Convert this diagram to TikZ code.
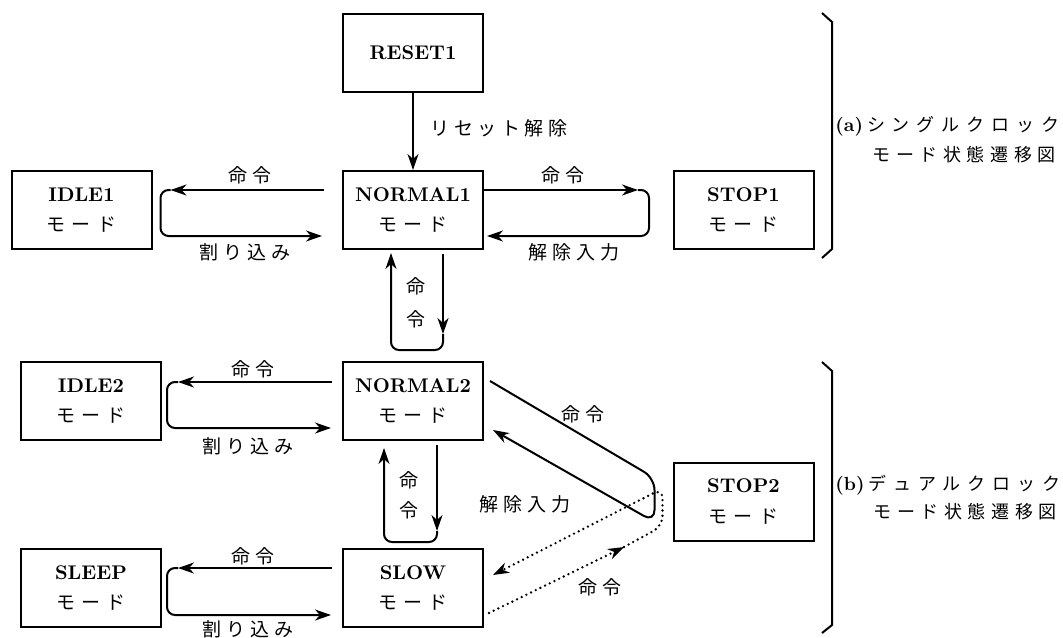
\documentclass[tikz,border=0pt]{standalone}
\usepackage{fontspec}
\newfontfamily\jp{Noto Sans CJK JP}
\usetikzlibrary{arrows.meta,calc}
\makeatletter
\def\spgap{0pt}
\newcommand\spaced[2]{\def\spgap{#1}\sp@loop#2\relax}
\def\sp@loop#1{\ifx#1\relax\else#1\expandafter\sp@next\fi}
\def\sp@next#1{\ifx#1\relax\else\kern\spgap\relax#1\expandafter\sp@next\fi}
\makeatother
\newcommand\modetxt{{\jp\fontsize{9.5}{15.2}\selectfont\spaced{3.2pt}{モード}}}
\begin{document}
\begin{tikzpicture}[x=0.5pt,y=-0.5pt,
  box/.style={draw,line width=1pt,minimum width=70pt,minimum height=39pt,inner sep=0pt,align=center,font=\fontsize{9.9}{15.2}\selectfont},
  ln/.style={line width=1pt,rounded corners=4pt},
  arr/.style={-{Stealth[length=8pt,width=5.5pt,inset=2.5pt]}},
  dot/.style={line width=1.3pt,line cap=round,dash pattern=on 0pt off 2.6pt,rounded corners=4pt},
  lab/.style={inner sep=0pt,font=\jp\fontsize{9.5}{16}\selectfont},
  vlab/.style={inner sep=0pt,align=center},
  side/.style={anchor=west,inner sep=0pt},
]
\useasboundingbox (0,0) rectangle (1063,637);

% boxes
\node[box] (R1) at (413,52.5) {\textbf{RESET1}};
\node[box] (N1) at (413,210) {\textbf{NORMAL1}\\\modetxt};
\node[box] (I1) at (81.5,210) {\textbf{IDLE1}\\\modetxt};
\node[box] (S1) at (743.5,210) {\textbf{STOP1}\\\modetxt};
\node[box] (N2) at (413,401) {\textbf{NORMAL2}\\\modetxt};
\node[box] (I2) at (91,401) {\textbf{IDLE2}\\\modetxt};
\node[box] (SP) at (91,588) {\textbf{SLEEP}\\\modetxt};
\node[box] (SW) at (413,588) {\textbf{SLOW}\\\modetxt};
\node[box] (S2) at (743.5,501.5) {\textbf{STOP2}\\\modetxt};

% RESET1 -> NORMAL1
\draw[ln,arr] (R1.south) -- (N1.north);
\node[lab] (lr) at (499,128) {\spaced{2.3pt}{リセット解除}};

% NORMAL1 <-> IDLE1
\draw[ln,arr] ($(N1.west)+(-18,-20)$) -- ($(I1.east)+(18,-20)$) coordinate (a2);
\draw[ln,arr] (a2) -- ($(I1.east)+(8,-20)$) -- ($(I1.east)+(8,26)$) -- ($(N1.west)+(-20,26)$);
\node[lab] (la1) at (250,175) {\spaced{2.5pt}{命令}};
\node[lab] (la2) at (245,252) {\spaced{2.5pt}{割り込み}};

% NORMAL1 <-> STOP1
\draw[ln,arr] ($(N1.east)+(0,-20)$) -- ($(N1.east)+(154,-20)$) coordinate (b2);
\draw[ln,arr] (b2) -- ($(N1.east)+(165,-20)$) -- ($(N1.east)+(165,26)$) -- ($(N1.east)+(3,26)$);
\node[lab] (lb1) at (563,175) {\spaced{2.5pt}{命令}};
\node[lab] (lb2) at (574,252) {\spaced{2.5pt}{解除入力}};

% NORMAL1 loop
\draw[ln,arr] ($(N1.south)+(30,4)$) -- ($(N1.south)+(30,84)$) coordinate (c2);
\draw[ln,arr] (c2) -- ($(N1.south)+(30,100)$) -- ($(N1.south)+(-22,100)$) -- ($(N1.south)+(-22,3)$);
\node[lab,vlab,font=\jp\fontsize{9.5}{16.5}\selectfont] (lc) at (416,303) {命\\令};

% NORMAL2 <-> IDLE2
\draw[ln,arr] ($(N2.west)+(-10,-19)$) -- ($(I2.east)+(16,-19)$) coordinate (e2);
\draw[ln,arr] (e2) -- ($(I2.east)+(5,-19)$) -- ($(I2.east)+(5,27)$) -- ($(N2.west)+(-11,27)$);
\node[lab] (le1) at (253,369) {\spaced{2.5pt}{命令}};
\node[lab] (le2) at (248,446) {\spaced{2.5pt}{割り込み}};

% SLOW <-> SLEEP
\draw[ln,arr] ($(SW.west)+(-10,-20)$) -- ($(SP.east)+(16,-20)$) coordinate (f2);
\draw[ln,arr] (f2) -- ($(SP.east)+(5,-20)$) -- ($(SP.east)+(5,27)$) -- ($(SW.west)+(-11,27)$);
\node[lab] (lf1) at (253,556) {\spaced{2.5pt}{命令}};
\node[lab] (lf2) at (248,629) {\spaced{2.5pt}{割り込み}};

% NORMAL2 <-> SLOW
\draw[ln,arr] ($(N2.south)+(24,4)$) -- ($(N2.south)+(24,90)$) coordinate (g2);
\draw[ln,arr] (g2) -- ($(N2.south)+(24,101)$) -- ($(N2.south)+(-29,101)$) -- ($(N2.south)+(-29,7)$);
\node[lab,vlab,font=\jp\fontsize{9.5}{15}\selectfont] (lg) at (409,495) {命\\令};

% NORMAL2 <-> STOP2
\draw[ln,arr,rounded corners=6pt] ($(N2.east)+(6,-20)$) -- ($(S2.west)+(-18,-23.5)$) -- ($(S2.west)+(-18,20.5)$) -- ($(N2.east)+(9,29)$);
\node[lab] (lh1) at (583,414) {\spaced{2.5pt}{命令}};
\node[lab] (lh2) at (525,504) {\spaced{2.5pt}{解除入力}};

% SLOW <-> STOP2 (dotted)
\draw[dot,arr] ($(SW.east)+(5,25)$) -- ($(SW.east)+(140,-41)$) coordinate (d2);
\draw[dot,arr,rounded corners=5pt] (d2) -- ($(S2.west)+(-10,24.5)$) -- ($(S2.west)+(-10,-13)$) -- ($(SW.east)+(9,-13)$);
\node[lab] (ld) at (600,587) {\spaced{2.5pt}{命令}};

% braces
\draw[line width=1pt] (822,13) -- (832,22) -- (832,249) -- (822,258);
\draw[line width=1pt] (822,362) -- (832,371) -- (832,625) -- (822,633);

% side labels
\node[side] (ta1) at (835,126) {\fontsize{9.5}{10}\selectfont\textbf{(a)}\hspace{2pt}{\jp\fontsize{9}{10}\selectfont\spaced{3.45pt}{シングルクロック}}};
\node[side] (ta2) at (872,155) {\jp\fontsize{9}{10}\selectfont\spaced{2.8pt}{モード状態遷移図}};
\node[side] (tb1) at (835,485) {\fontsize{9.5}{10}\selectfont\textbf{(b)}\hspace{2pt}{\jp\fontsize{9}{10}\selectfont\spaced{3.4pt}{デュアルクロック}}};
\node[side] (tb2) at (873,512) {\jp\fontsize{9}{10}\selectfont\spaced{2.8pt}{モード状態遷移図}};
\end{tikzpicture}
\end{document}
